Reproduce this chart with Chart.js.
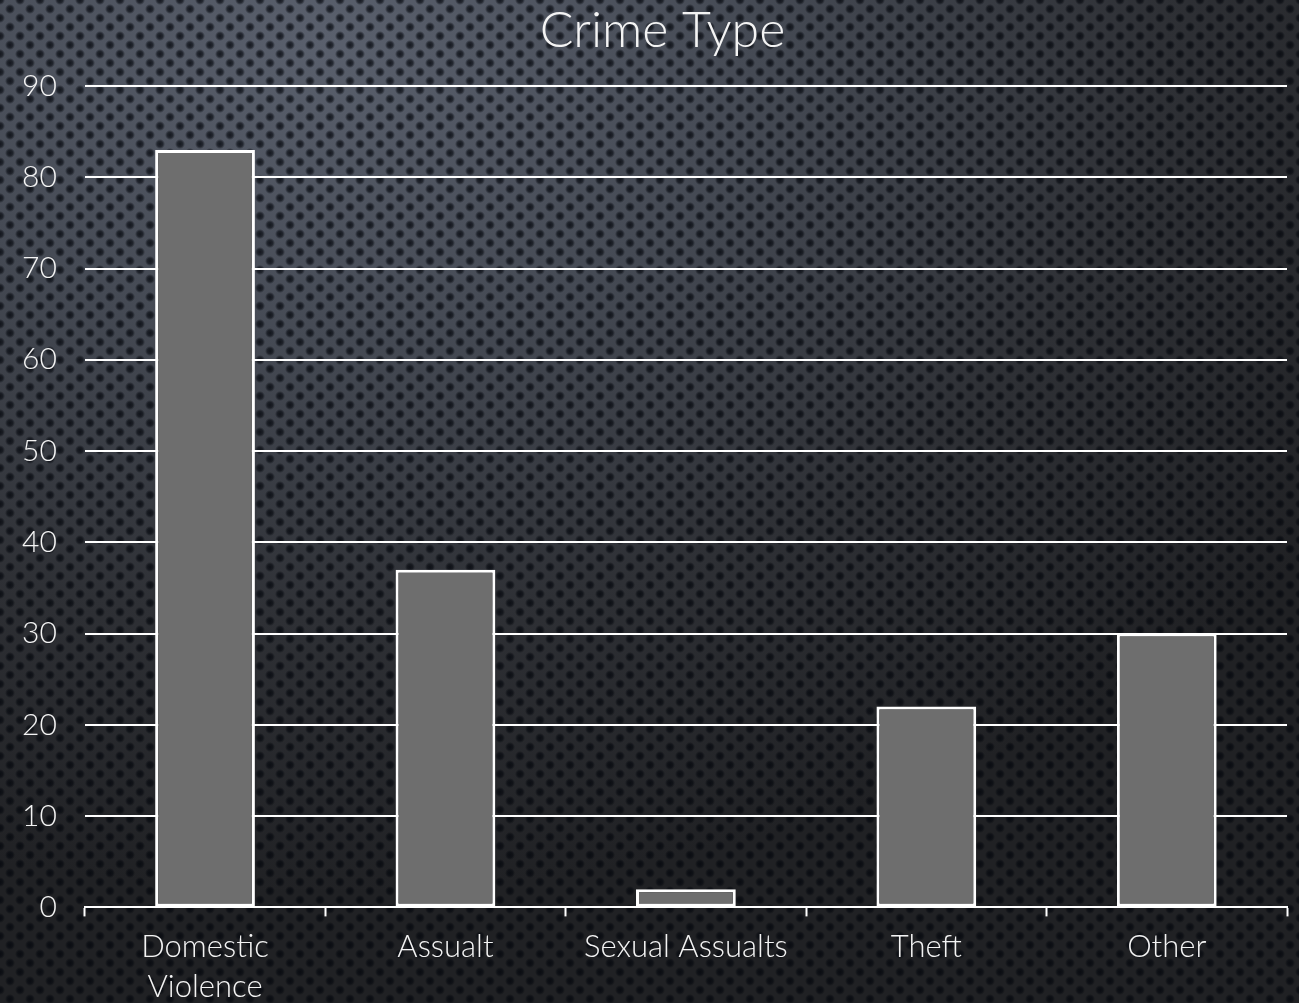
<!DOCTYPE html>
<html>
<head>
<meta charset="utf-8">
<script src="https://cdn.jsdelivr.net/npm/chart.js@4/dist/chart.umd.min.js"></script>
<style>
  html, body { margin: 0; padding: 0; }
  body {
    width: 1299px; height: 1003px; overflow: hidden;
    background-color: #25272b;
    background-image:
      radial-gradient(circle at 50% 50%, rgba(4,7,13,0.8) 0, rgba(4,7,13,0.6) 2.8px, rgba(4,7,13,0) 5px),
      radial-gradient(circle at 50% 50%, rgba(4,7,13,0.8) 0, rgba(4,7,13,0.6) 2.8px, rgba(4,7,13,0) 5px),
      radial-gradient(ellipse 95% 85% at 25% 4%, #5a606d 0%, #454a54 35%, #2e3035 68%, #202124 100%);
    background-size: 20px 18px, 20px 18px, 100% 100%;
    background-position: 0 0, 10px 9px, 0 0;
  }
  #wrap { position: relative; width: 1299px; height: 1003px; }
</style>
</head>
<body>
<div id="wrap"><canvas id="chart" width="1299" height="1003"></canvas></div>
<script>
// Incident counts by crime type
const categories = [['Domestic', 'Violence'], 'Assualt', 'Sexual Assualts', 'Theft', 'Other'];
const counts = [83, 37, 2, 22, 30];
const yTicks = [0, 10, 20, 30, 40, 50, 60, 70, 80, 90];

const fontFamily = "'Lato', 'Open Sans', sans-serif";
const textColor = '#f4f4f4';

// Nudge the title box so the heading sits a little right of the canvas centre
const titleShift = {
  id: 'titleShift',
  afterLayout(chart) {
    const t = chart.titleBlock;
    if (t) { t.left += 22; t.right += 22; }
  }
};

new Chart(document.getElementById('chart'), {
  type: 'bar',
  plugins: [titleShift],
  data: {
    labels: categories,
    datasets: [{
      label: 'Crime Type',
      data: counts,
      backgroundColor: '#6e6e6e',
      borderColor: '#ffffff',
      borderWidth: 3,
      borderSkipped: false,
      barPercentage: 0.415,
      categoryPercentage: 1.0
    }]
  },
  options: {
    responsive: false,
    animation: false,
    layout: { padding: { left: -6, right: 12, top: 0, bottom: -14 } },
    plugins: {
      legend: { display: false },
      tooltip: { enabled: false },
      title: {
        display: true,
        text: 'Crime Type',
        color: textColor,
        font: { family: fontFamily, size: 50, weight: '300' },
        padding: { top: 1, bottom: 25 }
      }
    },
    scales: {
      x: {
        grid: {
          display: true,
          drawOnChartArea: false,
          drawTicks: true,
          tickLength: 9,
          tickWidth: 2,
          tickColor: '#ffffff',
          offset: true
        },
        border: { display: true, color: '#ffffff', width: 2 },
        ticks: {
          color: textColor,
          font: { family: fontFamily, size: 31, weight: '300', lineHeight: 1.3 },
          padding: 10,
          maxRotation: 0
        }
      },
      y: {
        min: 0,
        max: 90,
        afterBuildTicks: (scale) => { scale.ticks = yTicks.map(v => ({ value: v })); },
        grid: {
          color: '#ffffff',
          lineWidth: 2,
          drawTicks: false
        },
        border: { display: false },
        ticks: {
          color: textColor,
          font: { family: fontFamily, size: 30, weight: '300' },
          padding: 28
        }
      }
    }
  }
});
</script>
</body>
</html>
